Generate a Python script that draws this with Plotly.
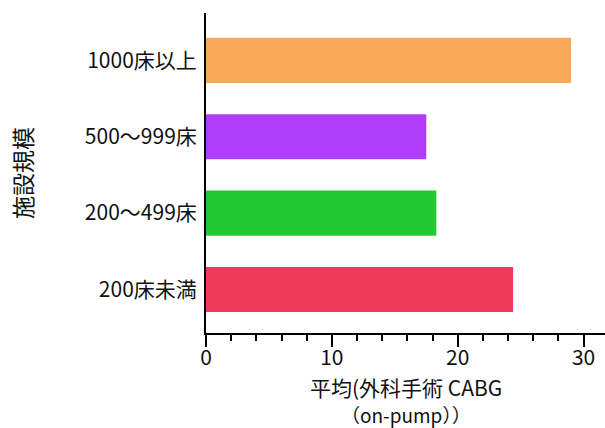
import plotly.graph_objects as go

categories = ["200床未満", "200～499床", "500～999床", "1000床以上"]
values = [24.4, 18.3, 17.5, 29.0]
colors = ["#EF3A5C", "#23C932", "#B03DF8", "#F9A858"]
x_tick_vals = [0, 10, 20, 30]
x_title_lines = ["平均(外科手術 CABG", "（on-pump））"]
y_title = "施設規模"

FONT = "Noto Sans CJK JP"

fig = go.Figure(
    go.Bar(
        x=values,
        y=categories,
        orientation="h",
        marker=dict(color=colors, line=dict(width=0)),
        width=0.59,
    )
)

fig.update_layout(
    width=605,
    height=428,
    margin=dict(l=206, r=0, t=13, b=95),
    plot_bgcolor="white",
    paper_bgcolor="white",
    showlegend=False,
    font=dict(family=FONT, size=20, color="#111111"),
)

fig.update_xaxes(
    range=[0, 31.7],
    tickvals=x_tick_vals,
    ticks="outside",
    ticklen=12,
    tickwidth=1.5,
    tickcolor="black",
    minor=dict(dtick=2, ticks="outside", ticklen=6, tickwidth=1.5, tickcolor="black"),
    showline=True,
    linecolor="black",
    linewidth=2,
    showgrid=False,
    zeroline=False,
    automargin=False,
    ticklabelstandoff=-7,
    tickfont=dict(size=21),
)

fig.update_yaxes(
    range=[-0.57, 3.62],
    categoryorder="array",
    categoryarray=categories,
    showline=True,
    linecolor="black",
    linewidth=2,
    showgrid=False,
    zeroline=False,
    automargin=False,
    ticks="",
    ticklabelstandoff=3,
    tickfont=dict(size=21),
    title=dict(text=y_title, font=dict(size=23), standoff=46),
)

for i, line in enumerate(x_title_lines):
    fig.add_annotation(
        text=line,
        x=0.5, xref="paper",
        y=0, yref="paper",
        xanchor="center", yanchor="middle",
        yshift=-54 - 27 * i,
        showarrow=False,
        font=dict(size=21 if i == 0 else 19),
    )

fig.write_html(
    "out.html",
    config={"displayModeBar": False},
    post_script="document.body.style.margin='0';document.body.style.overflow='hidden';",
)
